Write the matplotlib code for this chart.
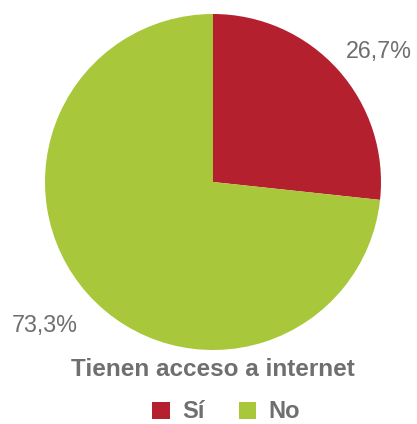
import matplotlib.pyplot as plt
from matplotlib.patches import Patch

plt.rcParams['font.family'] = ['Liberation Sans', 'DejaVu Sans']

labels = ['Sí', 'No']
values = [26.7, 73.3]
value_labels = ['26,7%', '73,3%']
colors = ['#b5202e', '#a8c73a']
title = 'Tienen acceso a internet'
text_color = '#6f6f6f'

W, H = 417, 424
cx, cy, r = 213, 182, 168

fig = plt.figure(figsize=(W / 100, H / 100), dpi=100)
ax = fig.add_axes([0, 0, 1, 1])
ax.pie(values, colors=colors, startangle=90, counterclock=False,
       radius=1, wedgeprops=dict(linewidth=0))
ax.set_xlim(-cx / r, (W - cx) / r)
ax.set_ylim(-(H - cy) / r, cy / r)
ax.set_aspect('auto')
ax.axis('off')

# percentage labels outside the wedges
label_pos = [(0.985, 0.775), (-1.0, -0.857)]
for (x, y), txt in zip(label_pos, value_labels):
    ax.text(x, y, txt, ha='center', va='center', fontsize=16.8, color=text_color)

ax.text(0, -(370 - cy) / r, title, ha='center', va='center',
        fontsize=17.5, fontweight='bold', color=text_color)

handles = [Patch(facecolor=c, edgecolor='none') for c in colors]
leg = fig.legend(handles, labels, loc='center', bbox_to_anchor=(226 / W, 1 - 412 / H),
                 ncol=2, frameon=False, handlelength=0.75, handleheight=0.75,
                 handletextpad=0.5, columnspacing=1.45,
                 prop=dict(size=17, weight='bold'))
for t in leg.get_texts():
    t.set_color(text_color)

fig.savefig('out.png', dpi=100)
